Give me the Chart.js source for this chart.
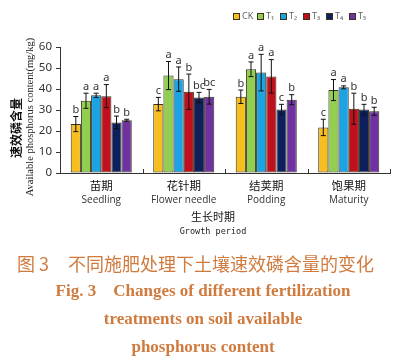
<!DOCTYPE html>
<html>
<head>
<meta charset="utf-8">
<script src="https://cdn.jsdelivr.net/npm/chart.js@4.4.1/dist/chart.umd.min.js"></script>
<style>
  body { margin: 0; background: #fff; }
  #wrap { width: 400px; height: 362px; }
</style>
</head>
<body>
<div id="wrap"><canvas id="chart" width="400" height="362"></canvas></div>
<script>
// growth periods
const periodsZh = ['苗期', '花针期', '结荚期', '饱果期'];
const periodsEn = ['Seedling', 'Flower needle', 'Podding', 'Maturity'];
const treatments = ['CK', 'T₁', 'T₂', 'T₃', 'T₄', 'T₅'];
const yTicks = [0, 10, 20, 30, 40, 50, 60];

// mean values (mg/kg)
const ck = [23.3, 32.8, 36.3, 21.7];
const t1 = [34.4, 46.4, 49.4, 39.5];
const t2 = [37.0, 44.7, 47.8, 40.8];
const t3 = [36.6, 38.7, 46.0, 30.6];
const t4 = [24.1, 35.9, 30.2, 30.2];
const t5 = [25.1, 36.3, 34.9, 29.4];

// standard errors
const ckErr = [3.6, 3.2, 3.2, 3.9];
const t1Err = [3.6, 6.7, 3.5, 5.0];
const t2Err = [1.0, 5.8, 8.7, 0.7];
const t3Err = [5.5, 8.4, 8.0, 7.4];
const t4Err = [3.0, 2.5, 2.5, 2.5];
const t5Err = [0.5, 3.5, 2.4, 1.9];

// significance letters
const ckSig = ['b', 'c', 'b', 'c'];
const t1Sig = ['a', 'a', 'a', 'a'];
const t2Sig = ['a', 'a', 'a', 'a'];
const t3Sig = ['a', 'b', 'a', 'b'];
const t4Sig = ['b', 'bc', 'c', 'b'];
const t5Sig = ['b', 'bc', 'b', 'b'];

const colors = ['#F6BE1F', '#92CF50', '#1BA3E3', '#C0101E', '#0E1F5E', '#6E33A0'];
const seriesValues = [ck, t1, t2, t3, t4, t5];
const seriesErr = [ckErr, t1Err, t2Err, t3Err, t4Err, t5Err];
const seriesSig = [ckSig, t1Sig, t2Sig, t3Sig, t4Sig, t5Sig];

const axisColor = '#333';
const captionColor = '#D07A3E';

const datasets = treatments.map((t, i) => ({
    label: t,
    data: seriesValues[i],
    err: seriesErr[i],
    sig: seriesSig[i],
    backgroundColor: colors[i],
    borderColor: '#3a3320',
    borderWidth: 1,
    borderSkipped: false,
    categoryPercentage: 0.74,
    barPercentage: 1.0
}));

const extras = {
    id: 'extras',
    afterDatasetsDraw(chart) {
        const ctx = chart.ctx;
        const y = chart.scales.y;
        ctx.save();
        chart.data.datasets.forEach((ds, di) => {
            const meta = chart.getDatasetMeta(di);
            meta.data.forEach((bar, j) => {
                const v = ds.data[j], e = ds.err[j];
                const top = y.getPixelForValue(v + e);
                const bot = y.getPixelForValue(v - e);
                ctx.strokeStyle = '#111';
                ctx.lineWidth = 1;
                ctx.beginPath();
                ctx.moveTo(bar.x, top); ctx.lineTo(bar.x, bot);
                ctx.moveTo(bar.x - 2.5, top); ctx.lineTo(bar.x + 2.5, top);
                ctx.moveTo(bar.x - 2.5, bot); ctx.lineTo(bar.x + 2.5, bot);
                ctx.stroke();
                ctx.fillStyle = '#333';
                ctx.font = '11px "Noto Sans", sans-serif';
                ctx.textAlign = 'center';
                ctx.textBaseline = 'bottom';
                ctx.fillText(ds.sig[j], bar.x, top - 1);
            });
        });
        ctx.restore();
    },
    afterDraw(chart) {
        const ctx = chart.ctx;
        const x = chart.scales.x;
        const area = chart.chartArea;
        ctx.save();
        // upward ticks at period boundaries
        ctx.strokeStyle = axisColor;
        ctx.lineWidth = 1;
        const half = (x.getPixelForValue(1) - x.getPixelForValue(0)) / 2;
        periodsZh.forEach((p, i) => {
            const px = Math.round(x.getPixelForValue(i) + half) + 0.5;
            ctx.beginPath();
            ctx.moveTo(px, area.bottom);
            ctx.lineTo(px, area.bottom - 4);
            ctx.stroke();
        });

        // period labels
        ctx.textAlign = 'center';
        ctx.textBaseline = 'middle';
        periodsZh.forEach((p, i) => {
            const px = x.getPixelForValue(i);
            ctx.fillStyle = '#111';
            ctx.font = '11.5px "Noto Sans CJK SC", sans-serif';
            ctx.fillText(p, px, area.bottom + 13);
            ctx.fillStyle = '#333';
            ctx.font = '10px "Open Sans", sans-serif';
            ctx.fillText(periodsEn[i], px, area.bottom + 27);
        });

        // legend
        let lx = 233;
        const ly = 16;
        ctx.font = '9px "Noto Sans", sans-serif';
        ctx.textAlign = 'left';
        treatments.forEach((t, i) => {
            ctx.fillStyle = colors[i];
            ctx.fillRect(lx, ly - 3, 6, 6);
            ctx.strokeStyle = '#3a3320';
            ctx.strokeRect(lx + 0.5, ly - 2.5, 6, 6);
            ctx.fillStyle = '#666';
            ctx.fillText(t, lx + 9, ly);
            lx += (i === 0 ? 24 : 23);
        });

        // y axis title
        ctx.textBaseline = 'alphabetic';
        ctx.save();
        ctx.translate(21, 128);
        ctx.rotate(-Math.PI / 2);
        ctx.textAlign = 'center';
        ctx.fillStyle = '#111';
        ctx.font = 'bold 12px "Noto Sans CJK SC", sans-serif';
        ctx.fillText('速效磷含量', 0, 0);
        ctx.restore();
        ctx.save();
        ctx.translate(33, 117);
        ctx.rotate(-Math.PI / 2);
        ctx.textAlign = 'center';
        ctx.fillStyle = '#222';
        ctx.font = '10.5px "Liberation Serif", serif';
        ctx.fillText('Available phosphorus content(mg/kg)', 0, 0);
        ctx.restore();

        // x axis title
        ctx.textAlign = 'center';
        ctx.fillStyle = '#111';
        ctx.font = '11px "Noto Sans CJK SC", sans-serif';
        ctx.fillText('生长时期', 213, 221);
        ctx.font = '8.5px "DejaVu Sans Mono", monospace';
        ctx.fillStyle = '#222';
        ctx.fillText('Growth period', 213, 234);

        // caption
        ctx.fillStyle = captionColor;
        ctx.font = '18px "Noto Sans CJK SC", sans-serif';
        ctx.textAlign = 'left';
        ctx.fillText('图 3', 17, 271);
        ctx.fillText('不同施肥处理下土壤速效磷含量的变化', 68, 271);
        ctx.textAlign = 'center';
        ctx.font = 'bold 17px "Liberation Serif", serif';
        ctx.fillText('Fig. 3    Changes of different fertilization', 203, 296);
        ctx.fillText('treatments on soil available', 203, 324);
        ctx.fillText('phosphorus content', 203, 352);
        ctx.restore();
    }
};

new Chart(document.getElementById('chart'), {
    type: 'bar',
    data: {
        labels: periodsZh,
        datasets
    },
    options: {
        responsive: false,
        animation: false,
        layout: { padding: { left: 0, right: 10, top: 47, bottom: 122 } },
        plugins: {
            legend: { display: false },
            tooltip: { enabled: false }
        },
        scales: {
            x: {
                afterFit: s => { s.height = 67; },
                grid: { display: true, drawOnChartArea: false, drawTicks: false },
                border: { display: true, color: axisColor, width: 1 },
                ticks: { display: false }
            },
            y: {
                min: 0,
                max: 60,
                afterFit: s => { s.width = 60; },
                afterBuildTicks: s => { s.ticks = yTicks.map(v => ({ value: v })); },
                grid: { display: true, drawOnChartArea: false, tickLength: 4, color: axisColor },
                border: { display: true, color: axisColor, width: 1 },
                ticks: {
                    color: '#333',
                    padding: 4,
                    font: { size: 11.5, family: '"Noto Sans", sans-serif' }
                }
            }
        }
    },
    plugins: [extras]
});
</script>
</body>
</html>
